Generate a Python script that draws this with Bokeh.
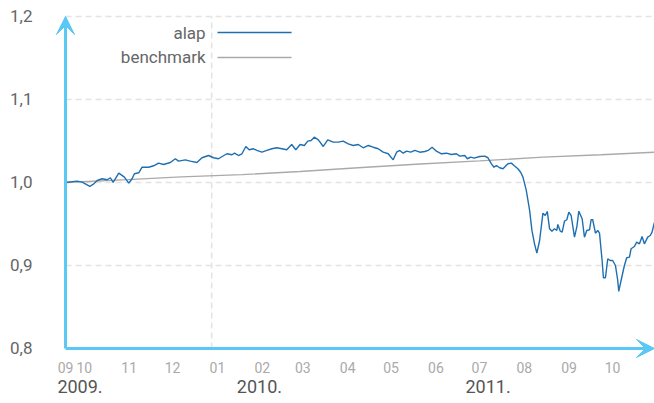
from bokeh.plotting import figure
from bokeh.models import (FixedTicker, LinearAxis, Arrow, VeeHead, Label, Range1d)
from bokeh.embed import file_html
from bokeh.resources import INLINE

# ---- data (x = days since start of series) ----
alap_days = [0, 8, 11.5, 16.8, 19.5, 21.9, 25.3, 28.8, 31, 32.9,
             36.8, 40.7, 43.7, 46, 47.6, 50.6, 52.9, 57.4, 60.9, 64.3,
             67.8, 72.4, 75.9, 78.1, 82.8, 86.2, 90.8, 94.3, 98.8, 102.3,
             105.7, 111.5,
             115, 116.8, 119.5, 121.9, 124.6, 126.9, 129.9, 132.2, 135.7, 139.1,
             142.6, 146, 149.5, 152.9, 156.3, 159.1, 162.1, 165, 167.4, 169.7,
             171.9, 174.7, 178.1, 181.2, 185, 188.5, 191.9, 195.4, 198.8, 202.3,
             205.7, 209.2, 212.6, 216.1, 219.5, 223, 226.4, 228.8, 231,
             233.3, 235.7, 238.6, 241.4, 244.8, 248.3, 250.6, 253.3, 256.3, 259.8,
             263.2, 266.7, 270.1, 272.4, 275.9, 277.7, 280, 282.3, 286.2, 289.7,
             291.9, 294.3, 296.1, 297.7, 300, 302.3, 305.7, 308.1, 309.9, 312.6,
             314.5, 316.1, 318.4, 320.7, 322.3, 324.1, 325.7, 327.6, 329.9, 331.5,
             332.9, 334.5, 336.1, 337.9, 339.5,
             340.2, 341.9, 343.2, 344.8, 346.4, 347.8, 349.4, 351.7, 353.3, 354.7,
             357, 358.6, 360.2, 362.1, 363.2, 364.3, 366.2, 367.8, 369, 370.8,
             371.7, 373.1, 374.7, 376.3, 378.1, 380, 381.6, 382.3, 383.9, 386.2,
             387.8, 389.7, 390.8, 393.1, 394.7, 396.6, 398.4, 400, 402.3, 404.1,
             405.3, 407]
alap_values = [1.000, 1.0016, 1.0004, 0.9952, 0.9984, 1.0024, 1.0045, 1.0033, 1.0057, 1.000,
               1.0112, 1.0064, 0.9992, 1.0045, 1.0105, 1.0117, 1.0184, 1.0184, 1.0201, 1.0233,
               1.0217, 1.0241, 1.0286, 1.0257, 1.0273, 1.0257, 1.0241, 1.0298, 1.0325, 1.0298,
               1.0286, 1.0346,
               1.0334, 1.0353, 1.0325, 1.0346, 1.0434, 1.0394, 1.0406, 1.0386, 1.0365, 1.0386,
               1.0406, 1.0418, 1.0406, 1.0394, 1.0458, 1.0394, 1.0458, 1.0446, 1.0498, 1.0506,
               1.0546, 1.0514, 1.0434, 1.0514, 1.0486, 1.0486, 1.0498, 1.0466, 1.0446, 1.0458,
               1.0418, 1.0446, 1.0425, 1.0406, 1.0365, 1.0346, 1.0273, 1.0365, 1.0386,
               1.0353, 1.0377, 1.0365, 1.0386, 1.0365, 1.0373, 1.0386, 1.0425, 1.0377, 1.0346,
               1.0353, 1.0337, 1.0346, 1.0317, 1.0325, 1.0286, 1.0305, 1.0293, 1.0313, 1.0317,
               1.0298, 1.0225, 1.0184, 1.0205, 1.0177, 1.0165, 1.0225, 1.0233, 1.0205, 1.0165,
               1.0124, 1.0064, 0.9904, 0.9663, 0.9422, 0.9261, 0.9148, 0.9301, 0.9630, 0.9602,
               0.9651, 0.9442, 0.9413, 0.9442, 0.9422,
               0.9494, 0.9413, 0.9401, 0.9534, 0.9551, 0.9642, 0.9602, 0.9341, 0.9461, 0.9654,
               0.9563, 0.9341, 0.9422, 0.9430, 0.9551, 0.9551, 0.9389, 0.9422, 0.9389, 0.9060,
               0.8852, 0.8852, 0.9081, 0.9060, 0.9060, 0.9000, 0.8819, 0.8687, 0.8819, 0.9000,
               0.9093, 0.9100, 0.9201, 0.9229, 0.9281, 0.9261, 0.9349, 0.9261, 0.9341, 0.9361,
               0.9401, 0.9522]

bench_days = [0, 43, 80, 122, 162, 205, 245, 286, 330, 370, 407]
bench_values = [1.000, 1.0035, 1.0068, 1.0095, 1.0133, 1.018, 1.0222, 1.026, 1.0305, 1.0335, 1.0365]

month_ticks = [0, 13, 44, 74, 105, 136, 164, 195, 225, 256, 286, 317, 348, 378]
month_labels = ["09", "10", "11", "12", "01", "02", "03", "04", "05", "06", "07", "08", "09", "10"]
year_ticks = [10, 134, 292]
year_labels = ["2009.", "2010.", "2011."]
y_ticks = [0.8, 0.9, 1.0, 1.1, 1.2]
y_labels = ["0,8", "0,9", "1,0", "1,1", "1,2"]
grid_ticks = [0.9, 1.0, 1.1, 1.2]
year_divider = 101
series_names = ["alap", "benchmark"]

X_START, X_END = -9, 407
Y_MIN, Y_MAX = 0.8, 1.2
AXIS_COLOR = "#5ac8f5"
ALAP_COLOR = "#1f6fb0"
BENCH_COLOR = "#aaaaaa"
GRID_COLOR = "#e3e3e3"
FONT = "Roboto"

p = figure(width=654, height=403, output_backend="svg", toolbar_location=None,
           x_range=Range1d(X_START, X_END), y_range=Range1d(0.7843, 1.2024),
           min_border_left=52, min_border_right=0, min_border_top=14,
           min_border_bottom=42)
p.outline_line_color = None
p.background_fill_color = "white"
p.border_fill_color = "white"
p.xgrid.visible = False
p.ygrid.visible = False

# dashed grid lines, limited to the axes area
p.segment(x0=[0] * len(grid_ticks), y0=grid_ticks, x1=[X_END] * len(grid_ticks), y1=grid_ticks,
          line_color=GRID_COLOR, line_dash="6 4", line_width=1.5)
p.segment(x0=[year_divider], y0=[Y_MIN], x1=[year_divider], y1=[Y_MAX],
          line_color=GRID_COLOR, line_dash="6 4", line_width=1.5)

# y axis
ya = p.yaxis[0]
ya.ticker = FixedTicker(ticks=y_ticks)
ya.major_label_overrides = {t: l for t, l in zip(y_ticks, y_labels)}
ya.axis_line_color = None
ya.major_tick_line_color = None
ya.minor_tick_line_color = None
ya.major_tick_out = 0
ya.major_tick_in = 0
ya.major_label_standoff = 20
ya.major_label_text_font = FONT
ya.major_label_text_font_size = "17px"
ya.major_label_text_color = "#666666"

# month axis
xa = p.xaxis[0]
xa.ticker = FixedTicker(ticks=month_ticks)
xa.major_label_overrides = {t: l for t, l in zip(month_ticks, month_labels)}
xa.axis_line_color = None
xa.major_tick_line_color = None
xa.minor_tick_line_color = None
xa.major_tick_out = 0
xa.major_tick_in = 0
xa.major_label_standoff = 0
xa.major_label_text_font = FONT
xa.major_label_text_font_size = "14px"
xa.major_label_text_color = "#aaaaaa"

# year axis
yr = LinearAxis(ticker=FixedTicker(ticks=year_ticks),
                major_label_overrides={t: l for t, l in zip(year_ticks, year_labels)})
yr.axis_line_color = None
yr.major_tick_line_color = None
yr.minor_tick_line_color = None
yr.major_tick_out = 0
yr.major_tick_in = 0
yr.major_label_standoff = 4
yr.major_label_text_font = FONT
yr.major_label_text_font_size = "18px"
yr.major_label_text_line_height = 0.8
yr.major_label_text_color = "#555555"
p.add_layout(yr, "below")

# series
p.line(bench_days, bench_values, line_color=BENCH_COLOR, line_width=1.4)
p.line(alap_days, alap_values, line_color=ALAP_COLOR, line_width=1.4)

# axis arrows
p.add_layout(Arrow(end=VeeHead(size=18, fill_color=AXIS_COLOR, line_color=AXIS_COLOR),
                   x_start=0, y_start=Y_MIN, x_end=0, y_end=Y_MAX,
                   line_color=AXIS_COLOR, line_width=3))
p.add_layout(Arrow(end=VeeHead(size=18, fill_color=AXIS_COLOR, line_color=AXIS_COLOR),
                   x_start=0, y_start=Y_MIN, x_end=X_END, y_end=Y_MIN,
                   line_color=AXIS_COLOR, line_width=3))

# legend (text to the left of the swatch)
leg_x_text, leg_x0, leg_x1 = 96.8, 105, 156.2
for name, color, yv in zip(series_names, [ALAP_COLOR, BENCH_COLOR], [1.1807, 1.1506]):
    p.add_layout(Label(x=leg_x_text, y=yv, text=name, text_align="right",
                       text_baseline="alphabetic", text_font=FONT,
                       text_font_size="17px", text_color="#666666"))
    p.add_layout(Arrow(end=None, x_start=leg_x0, y_start=yv, x_end=leg_x1, y_end=yv,
                       line_color=color, line_width=1.5))

open("out.html", "w").write(file_html(p, INLINE))
